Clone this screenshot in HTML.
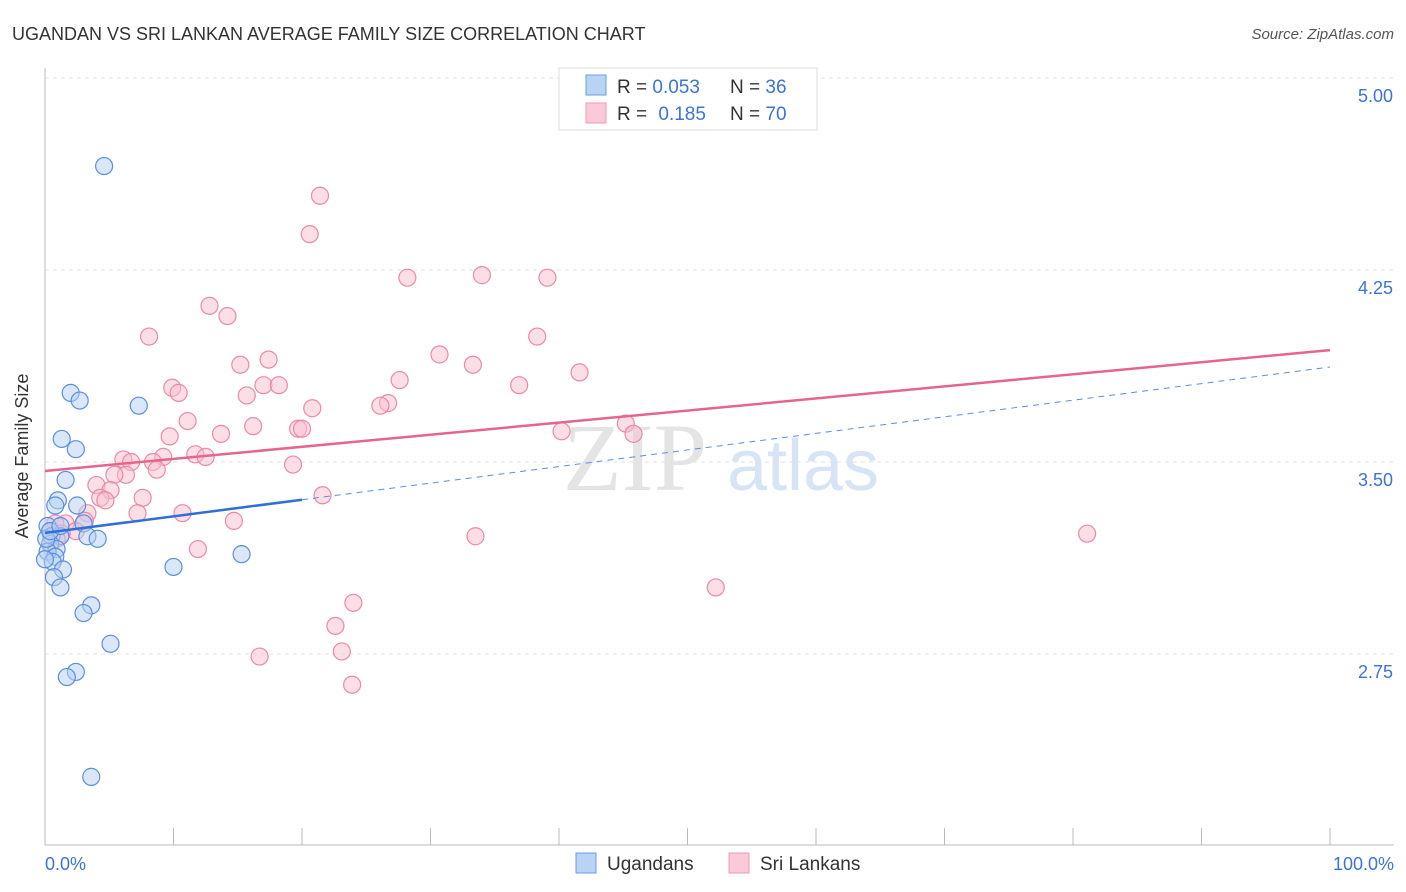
<!DOCTYPE html>
<html><head><meta charset="utf-8"><style>
body{margin:0;background:#fff;font-family:"Liberation Sans",sans-serif;}
#wrap{position:relative;width:1406px;height:892px;overflow:hidden;}
</style></head><body>
<div id="wrap">
<svg id="svg" width="1406" height="892" xmlns="http://www.w3.org/2000/svg">
<text x="12" y="40" font-size="18" fill="#333">UGANDAN VS SRI LANKAN AVERAGE FAMILY SIZE CORRELATION CHART</text>
<text x="1394" y="39" font-size="15" fill="#555" font-style="italic" text-anchor="end">Source: ZipAtlas.com</text>
<text x="635" y="490" font-size="96" fill="#e4e4e4" font-family="Liberation Serif,serif" text-anchor="middle">ZIP</text>
<text x="803" y="490" font-size="72" fill="#d6e4f5" text-anchor="middle">atlas</text>
<g id="grid"></g><g id="axes"></g><g id="pts"></g><g id="lines"></g>
<text x="28" y="456" font-size="18" fill="#333" text-anchor="middle" transform="rotate(-90 28 456)">Average Family Size</text>
<text x="45" y="870" font-size="18" fill="#3b74d4">0.0%</text>
<text x="1394" y="870" font-size="18" fill="#3b74d4" text-anchor="end">100.0%</text>
<g>
<rect x="559" y="68" width="258" height="62" fill="#fff" stroke="#ddd"/>
<rect x="586" y="75" width="20" height="20" fill="#b9d3f5" stroke="#6c9de0"/>
<rect x="586" y="103" width="20" height="20" fill="#fcc9d8" stroke="#ec9ab4"/>
<text x="617" y="93" font-size="19" fill="#333">R = <tspan fill="#3b74d4">0.053</tspan></text>
<text x="730" y="93" font-size="19" fill="#333">N = <tspan fill="#3b74d4">36</tspan></text>
<text x="617" y="120" font-size="19" fill="#333">R = <tspan fill="#3b74d4" dx="6">0.185</tspan></text>
<text x="730" y="120" font-size="19" fill="#333">N = <tspan fill="#3b74d4">70</tspan></text>
</g>
<g>
<rect x="576" y="853" width="20" height="20" fill="#b9d3f5" stroke="#6c9de0"/>
<text x="607" y="870" font-size="19" fill="#333">Ugandans</text>
<rect x="729" y="853" width="20" height="20" fill="#fcc9d8" stroke="#ec9ab4"/>
<text x="760" y="870" font-size="19" fill="#333">Sri Lankans</text>
</g>
</svg></div>
<script>
const yTicks=[2.75,3.50,4.25,5.00];
const yTickLabels=["2.75","3.50","4.25","5.00"];
const blueX=[4.6,2.0,2.7,7.3,1.3,2.4,1.6,1.0,0.8,2.5,3.0,0.2,0.5,1.2,3.3,4.1,0.4,0.9,0.2,0.8,0.6,1.4,0.7,1.2,10.0,15.3,3.6,3.0,5.1,2.4,1.7,3.6,0.1,0.4,1.2,0];
const blueY=[4.656,3.77,3.74,3.72,3.59,3.55,3.43,3.35,3.33,3.33,3.26,3.25,3.21,3.21,3.21,3.20,3.18,3.16,3.15,3.13,3.11,3.08,3.05,3.01,3.09,3.14,2.94,2.91,2.79,2.68,2.66,2.27,3.20,3.23,3.25,3.12];
const pinkX=[21.4,20.6,28.2,34.0,39.1,12.8,14.2,8.1,38.3,30.7,33.3,17.4,15.2,41.6,27.6,36.9,9.9,10.4,17.0,18.2,15.7,26.7,26.1,20.8,11.1,45.2,16.2,19.7,20.0,40.2,45.8,13.7,9.7,11.7,12.5,9.2,6.1,6.7,8.4,8.7,19.3,6.3,5.4,4.0,5.1,21.6,7.6,4.3,4.7,10.7,7.2,3.3,14.7,3.1,1.6,0.8,0.4,2.4,1.3,81.1,33.5,11.9,52.2,24.0,22.6,23.1,16.7,23.9,0.4,0.9];
const pinkY=[4.54,4.39,4.22,4.23,4.22,4.11,4.07,3.99,3.99,3.92,3.88,3.90,3.88,3.85,3.82,3.80,3.79,3.77,3.80,3.80,3.76,3.73,3.72,3.71,3.66,3.65,3.64,3.63,3.63,3.62,3.61,3.61,3.60,3.53,3.52,3.52,3.51,3.50,3.50,3.47,3.49,3.45,3.45,3.41,3.39,3.37,3.36,3.36,3.35,3.30,3.30,3.30,3.27,3.27,3.26,3.26,3.23,3.23,3.22,3.22,3.21,3.16,3.01,2.95,2.86,2.76,2.74,2.63,3.18,3.20];
const blueLine=[3.223,3.871]; // values at 0% and 100%
const blueSolidEnd=20;
const pinkLine=[3.465,3.937];
const NS="http://www.w3.org/2000/svg";
const X=v=>45+v*12.85, Y=v=>462-(v-3.5)*256;
function mk(t,a,p){const e=document.createElementNS(NS,t);for(const k in a)e.setAttribute(k,a[k]);p.appendChild(e);return e;}
const grid=document.getElementById('grid'),axes=document.getElementById('axes'),pts=document.getElementById('pts'),lines=document.getElementById('lines');
yTicks.forEach((v,i)=>{
 const l=mk('line',{x1:45,x2:1394,y1:Y(v),y2:Y(v),stroke:'#e2e2e2','stroke-dasharray':'4,4'},grid);
 
 
 const t=mk('text',{x:1393,y:Y(v)+24,'font-size':18,fill:'#3b74d4','text-anchor':'end'},grid);
 t.textContent=yTickLabels[i];
 
 
});
mk('line',{x1:45,x2:45,y1:68,y2:845,stroke:'#bbb'},axes);
mk('line',{x1:45,x2:1394,y1:845,y2:845,stroke:'#bbb'},axes);
for(let i=0;i<=10;i++){const t=mk('line',{x1:X(i*10),x2:X(i*10),y1:828,y2:845,stroke:'#bbb'},axes);
 
 }
function dots(xs,ys,fill,stroke,name){xs.forEach((x,i)=>{const c=mk('circle',{cx:X(x),cy:Y(ys[i]),r:8.5,fill:fill,'fill-opacity':0.5,stroke:stroke,'stroke-width':1.2},pts);
 
 });}
dots(pinkX,pinkY,'#f9bdd0','#e98aa9','sri-lankan-point');
dots(blueX,blueY,'#b3cff3','#5b8fdc','ugandan-point');
const bAt=x=>blueLine[0]+(blueLine[1]-blueLine[0])*x/100;
let l1=mk('line',{x1:X(blueSolidEnd),y1:Y(bAt(blueSolidEnd)),x2:X(100),y2:Y(bAt(100)),stroke:'#5b8fdc','stroke-width':1,'stroke-dasharray':'6,5'},lines);


let l2=mk('line',{x1:X(0),y1:Y(bAt(0)),x2:X(blueSolidEnd),y2:Y(bAt(blueSolidEnd)),stroke:'#2f6fd6','stroke-width':2.5},lines);


let l3=mk('line',{x1:X(0),y1:Y(pinkLine[0]),x2:X(100),y2:Y(pinkLine[1]),stroke:'#e4668f','stroke-width':2.5},lines);


</script>
</body></html>
